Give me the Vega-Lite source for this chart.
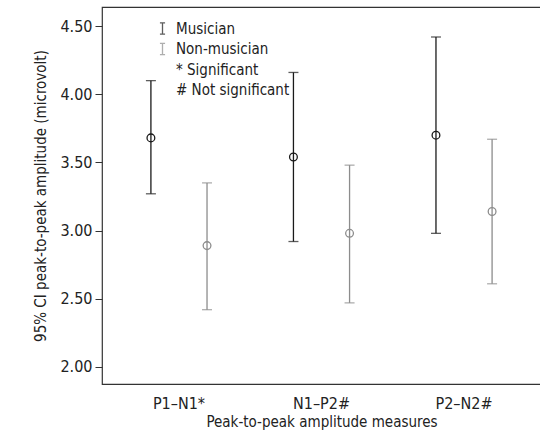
{
  "$schema": "https://vega.github.io/schema/vega-lite/v6.json",
  "width": 439,
  "height": 377,
  "autosize": "none",
  "padding": {"left": 102, "top": 7, "right": 0, "bottom": 52},
  "background": "white",
  "config": {
    "font": "DejaVu Sans Condensed, Liberation Sans, sans-serif",
    "view": {"stroke": "#333333", "strokeWidth": 1.2},
    "axis": {
      "labelFont": "DejaVu Sans Condensed, Liberation Sans, sans-serif",
      "titleFont": "DejaVu Sans Condensed, Liberation Sans, sans-serif",
      "labelColor": "#222222",
      "titleColor": "#222222",
      "labelFontSize": 16,
      "titleFontSize": 15,
      "titleFontWeight": "normal",
      "domainColor": "#333333",
      "tickColor": "#333333",
      "grid": false
    },
    "legend": {"labelFont": "DejaVu Sans Condensed, Liberation Sans, sans-serif"}
  },
  "data": {
    "values": [
      {"measure": "P1–N1*", "group": "Musician", "mean": 3.68, "lower": 3.27, "upper": 4.10},
      {"measure": "P1–N1*", "group": "Non-musician", "mean": 2.89, "lower": 2.42, "upper": 3.35},
      {"measure": "N1–P2#", "group": "Musician", "mean": 3.54, "lower": 2.92, "upper": 4.16},
      {"measure": "N1–P2#", "group": "Non-musician", "mean": 2.98, "lower": 2.47, "upper": 3.48},
      {"measure": "P2–N2#", "group": "Musician", "mean": 3.70, "lower": 2.98, "upper": 4.42},
      {"measure": "P2–N2#", "group": "Non-musician", "mean": 3.14, "lower": 2.61, "upper": 3.67}
    ]
  },
  "encoding": {
    "x": {
      "field": "measure",
      "type": "nominal",
      "sort": ["P1–N1*", "N1–P2#", "P2–N2#"],
      "scale": {"paddingInner": 0, "paddingOuter": 0.04},
      "axis": {
        "title": "Peak-to-peak amplitude measures",
        "labelAngle": 0,
        "ticks": false,
        "domain": false,
        "labelPadding": 11,
        "titlePadding": 3
      }
    },
    "xOffset": {
      "field": "group",
      "type": "nominal",
      "scale": {"domain": ["Musician", "Non-musician"], "paddingInner": 0, "paddingOuter": 0.27}
    },
    "color": {
      "field": "group",
      "type": "nominal",
      "scale": {
        "domain": ["Musician", "Non-musician", "* Significant", "# Not significant"],
        "range": ["#1a1a1a", "#8c8c8c", "rgba(0,0,0,0)", "rgba(0,0,0,0)"]
      },
      "legend": {
        "title": null,
        "orient": "none",
        "legendX": 53,
        "legendY": 14,
        "symbolType": "M-0.45,-1H0.45M0,-1V1M-0.45,1H0.45",
        "symbolSize": 130,
        "symbolStrokeWidth": 1.3,
        "symbolFillColor": "rgba(0,0,0,0)",
        "labelFontSize": 15,
        "labelColor": "#222222",
        "labelOffset": 6,
        "rowPadding": 3.5
      }
    }
  },
  "layer": [
    {
      "mark": {"type": "rule", "strokeWidth": 1.3},
      "encoding": {
        "y": {
          "field": "lower",
          "type": "quantitative",
          "scale": {"domain": [1.875, 4.64], "nice": false, "zero": false},
          "axis": {
            "title": "95% CI peak-to-peak amplitude (microvolt)",
            "values": [2, 2.5, 3, 3.5, 4, 4.5],
            "format": ".2f",
            "tickSize": 7,
            "labelPadding": 3,
            "titlePadding": 11,
            "domain": false
          }
        },
        "y2": {"field": "upper"}
      }
    },
    {
      "mark": {"type": "tick", "orient": "horizontal", "size": 10, "thickness": 1.3},
      "encoding": {"y": {"field": "upper", "type": "quantitative"}}
    },
    {
      "mark": {"type": "tick", "orient": "horizontal", "size": 10, "thickness": 1.3},
      "encoding": {"y": {"field": "lower", "type": "quantitative"}}
    },
    {
      "mark": {"type": "point", "filled": false, "size": 60, "strokeWidth": 1.3, "opacity": 1},
      "encoding": {"y": {"field": "mean", "type": "quantitative"}}
    }
  ]
}
